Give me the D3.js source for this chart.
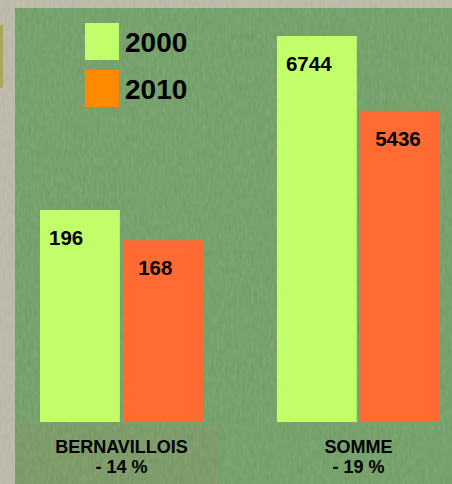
<!DOCTYPE html>
<html>
<head>
<meta charset="utf-8">
<script src="https://cdn.jsdelivr.net/npm/d3@7"></script>
<style>
  html, body { margin: 0; padding: 0; background: #b9b8a8; }
  svg { display: block; }
</style>
</head>
<body>
<div id="chart"></div>
<script>
const categories = ['BERNAVILLOIS', 'SOMME']
const changes = ['- 14 %', '- 19 %']
const series = ['2000', '2010']
const values2000 = [196, 6744]
const values2010 = [168, 5436]

const width = 452
const height = 484
const baseline = 422
const groupTop = [210, 36] // each group has its own scale in the original
const barColors = ['#c1fe69', '#ff6b33']
const legendColors = ['#c1fe69', '#ff8a00']
const font = 'Liberation Sans, Arial, sans-serif'

const svg = d3.select('#chart').append('svg')
  .attr('width', width)
  .attr('height', height)

// grass-ish texture
const defs = svg.append('defs')
const grain = defs.append('filter').attr('id', 'grain')
grain.append('feTurbulence')
  .attr('type', 'fractalNoise')
  .attr('baseFrequency', '0.35 0.12')
  .attr('numOctaves', 2)
  .attr('seed', 4)
grain.append('feColorMatrix')
  .attr('type', 'matrix')
  .attr('values', '0 0 0 0 1  0 0 0 0 1  0 0 0 0 1  0 0 0 -1.2 1.1')

svg.append('rect')
  .attr('x', 0).attr('y', 0)
  .attr('width', width).attr('height', height)
  .attr('fill', '#b7b6a6')
svg.append('rect')
  .attr('x', 0).attr('y', 25)
  .attr('width', 3).attr('height', 63)
  .attr('fill', '#a8a24e')
svg.append('rect')
  .attr('x', 15).attr('y', 8)
  .attr('width', width - 15).attr('height', height - 8)
  .attr('fill', '#6f9c63')
svg.append('rect')
  .attr('x', 15).attr('y', 424)
  .attr('width', 205).attr('height', 60)
  .attr('fill', '#7d905f')
  .attr('opacity', 0.5)
svg.append('rect')
  .attr('x', 15).attr('y', 8)
  .attr('width', width - 15).attr('height', height - 8)
  .attr('filter', 'url(#grain)')
  .attr('opacity', 0.12)

const x0 = d3.scaleBand()
  .domain(categories)
  .range([40, 440])
  .paddingInner(0.312)

const x1 = d3.scaleBand()
  .domain(series)
  .range([0, x0.bandwidth()])
  .paddingInner(0.04)

const rows = categories.map((c, i) => ({
  category: c,
  change: changes[i],
  y: d3.scaleLinear().domain([0, values2000[i]]).range([baseline, groupTop[i]]),
  bars: [values2000[i], values2010[i]].map((v, j) => ({ key: series[j], value: v }))
}))

const groups = svg.selectAll('.group')
  .data(rows)
  .enter()
  .append('g')
  .attr('class', 'group')
  .attr('transform', d => `translate(${x0(d.category)},0)`)

groups.each(function (d) {
  const g = d3.select(this)
  g.selectAll('rect')
    .data(d.bars)
    .enter()
    .append('rect')
    .attr('x', b => x1(b.key))
    .attr('y', b => d.y(b.value))
    .attr('width', x1.bandwidth())
    .attr('height', b => baseline - d.y(b.value))
    .attr('fill', (b, j) => barColors[j])

  g.selectAll('.value')
    .data(d.bars)
    .enter()
    .append('text')
    .attr('class', 'value')
    .attr('x', (b, j) => x1(b.key) + (j === 0 ? 9 : 15))
    .attr('y', b => d.y(b.value) + 35)
    .attr('font-family', font)
    .attr('font-weight', 'bold')
    .attr('font-size', 20.5)
    .attr('fill', '#000')
    .text(b => b.value)

  const label = g.append('text')
    .attr('text-anchor', 'middle')
    .attr('font-family', font)
    .attr('font-weight', 'bold')
    .attr('font-size', 18)
    .attr('fill', '#000')
  label.append('tspan')
    .attr('x', x0.bandwidth() / 2)
    .attr('y', 453)
    .text(d.category)
  label.append('tspan')
    .attr('x', x0.bandwidth() / 2)
    .attr('y', 473)
    .text(d.change)
})

// legend
const legend = svg.append('g')
  .attr('transform', 'translate(85,23)')

const items = legend.selectAll('.item')
  .data(series)
  .enter()
  .append('g')
  .attr('class', 'item')
  .attr('transform', (d, i) => `translate(0,${i * 47})`)

items.append('rect')
  .attr('width', 34)
  .attr('height', 37)
  .attr('fill', (d, i) => legendColors[i])

items.append('text')
  .attr('x', 40)
  .attr('y', 29)
  .attr('font-family', font)
  .attr('font-weight', 'bold')
  .attr('font-size', 28)
  .attr('fill', '#000')
  .text(d => d)
</script>
</body>
</html>
